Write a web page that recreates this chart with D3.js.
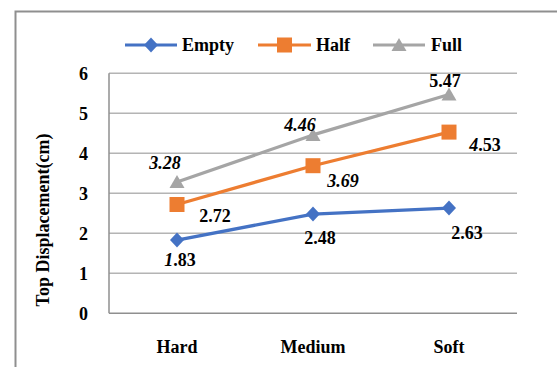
<!DOCTYPE html>
<html>
<head>
<meta charset="utf-8">
<script src="https://cdn.jsdelivr.net/npm/d3@7/dist/d3.min.js"></script>
<style>
  html, body { margin: 0; padding: 0; background: #fff; }
  svg { display: block; }
  text { font-family: "Liberation Serif", "Times New Roman", serif; font-weight: bold; fill: #000; }
</style>
</head>
<body>
<svg id="chart" width="557" height="367"></svg>
<script>
// Ground conditions along the x axis
const categories = ["Hard", "Medium", "Soft"];
// Tank fill states
const seriesNames = ["Empty", "Half", "Full"];
// Top displacement (cm) per fill state
const emptyValues = [1.83, 2.48, 2.63];
const halfValues = [2.72, 3.69, 4.53];
const fullValues = [3.28, 4.46, 5.47];
const yTicks = [0, 1, 2, 3, 4, 5, 6];

const svg = d3.select("#chart");
const W = 557, H = 367;
const plot = { left: 109, right: 517, top: 73.3, bottom: 313.3 };
const FS = 18;

const colors = { Empty: "#4472C4", Half: "#ED7D31", Full: "#A5A5A5" };

// Outer chart frame (runs off the right and bottom edges)
svg.append("rect")
  .attr("x", 15.5).attr("y", 11.5)
  .attr("width", W + 20).attr("height", H + 20)
  .attr("fill", "none").attr("stroke", "#8f8f8f").attr("stroke-width", 2);

const x = d3.scaleBand().domain(categories).range([plot.left, plot.right]);
const y = d3.scaleLinear().domain([0, 6]).range([plot.bottom, plot.top]);
const cx = c => x(c) + x.bandwidth() / 2;

// Horizontal gridlines
svg.append("g").selectAll("line").data(yTicks.filter(t => t > 0)).join("line")
  .attr("x1", plot.left).attr("x2", plot.right)
  .attr("y1", d => y(d)).attr("y2", d => y(d))
  .attr("stroke", "#b4b4b4").attr("stroke-width", 1.5);

// Axis lines
svg.append("line")
  .attr("x1", plot.left).attr("x2", plot.left)
  .attr("y1", plot.top).attr("y2", plot.bottom)
  .attr("stroke", "#8f8f8f").attr("stroke-width", 1.5);
svg.append("line")
  .attr("x1", plot.left).attr("x2", plot.right)
  .attr("y1", plot.bottom).attr("y2", plot.bottom)
  .attr("stroke", "#8f8f8f").attr("stroke-width", 1.5);

// Y tick labels
const yAxis = d3.axisLeft(y).tickValues(yTicks).tickFormat(d3.format("d")).tickSize(0).tickPadding(21);
const gy = svg.append("g").attr("transform", `translate(${plot.left},0)`).call(yAxis);
gy.select(".domain").remove();
gy.selectAll("text").attr("font-size", FS).attr("font-family", null).attr("dy", "0.35em");

// X category labels
const xAxis = d3.axisBottom(x).tickSize(0).tickPadding(0);
const gx = svg.append("g").attr("transform", `translate(0,${plot.bottom})`).call(xAxis);
gx.select(".domain").remove();
gx.selectAll("text").attr("font-size", FS).attr("font-family", null).attr("dy", null).attr("y", 40);

// Y axis title
svg.append("text")
  .attr("transform", "translate(49,220) rotate(-90)")
  .attr("text-anchor", "middle").attr("font-size", FS)
  .text("Top Displacement(cm)");

// Series
const series = [
  { name: "Empty", values: emptyValues, shape: "diamond" },
  { name: "Half", values: halfValues, shape: "square" },
  { name: "Full", values: fullValues, shape: "triangle" }
];

function marker(g, shape, color) {
  if (shape === "diamond") {
    g.append("path").attr("d", "M0,-7.5L7,0L0,7.5L-7,0Z").attr("fill", color);
  } else if (shape === "square") {
    g.append("rect").attr("x", -7.5).attr("y", -7.5).attr("width", 15).attr("height", 15).attr("fill", color);
  } else {
    g.append("path").attr("d", "M0,-7L7.5,6L-7.5,6Z").attr("fill", color);
  }
}

const line = d3.line().x(d => cx(d.cat)).y(d => y(d.v));

series.forEach(s => {
  const pts = categories.map((c, i) => ({ cat: c, v: s.values[i] }));
  svg.append("path").datum(pts)
    .attr("d", line)
    .attr("fill", "none").attr("stroke", colors[s.name]).attr("stroke-width", 3.2)
    .attr("stroke-linejoin", "round");
  pts.forEach(p => {
    const g = svg.append("g").attr("transform", `translate(${cx(p.cat)},${y(p.v)})`);
    marker(g, s.shape, colors[s.name]);
  });
});

// Data labels: offsets from the point, and how many leading characters are set in italic
const labelOffsets = {
  Empty: [[3, 26], [7, 30], [18, 31]],
  Half: [[38, 17], [30, 21], [36, 19]],
  Full: [[-12, -13], [-13, -4], [-4, -8]]
};
const labelItalic = {
  Empty: [1, 0, 0],
  Half: [0, 4, 1],
  Full: [4, 4, 0]
};
series.forEach(s => {
  s.values.forEach((v, i) => {
    const [dx, dy] = labelOffsets[s.name][i];
    const str = v.toFixed(2);
    const n = labelItalic[s.name][i];
    const t = svg.append("text")
      .attr("x", cx(categories[i]) + dx).attr("y", y(v) + dy)
      .attr("text-anchor", "middle").attr("font-size", FS);
    if (n > 0) t.append("tspan").attr("font-style", "italic").text(str.slice(0, n));
    if (n < str.length) t.append("tspan").text(str.slice(n));
  });
});

// Legend
const legendItems = [
  { name: "Empty", shape: "diamond", x0: 125, x1: 177, tx: 182 },
  { name: "Half", shape: "square", x0: 258, x1: 311, tx: 316 },
  { name: "Full", shape: "triangle", x0: 373, x1: 425, tx: 431 }
];
const ly = 45;
legendItems.forEach(it => {
  svg.append("line").attr("x1", it.x0).attr("x2", it.x1).attr("y1", ly).attr("y2", ly)
    .attr("stroke", colors[it.name]).attr("stroke-width", 3.2);
  const g = svg.append("g").attr("transform", `translate(${(it.x0 + it.x1) / 2},${ly})`);
  marker(g, it.shape, colors[it.name]);
  svg.append("text").attr("x", it.tx).attr("y", ly + 6).attr("font-size", FS).text(it.name);
});
</script>
</body>
</html>
